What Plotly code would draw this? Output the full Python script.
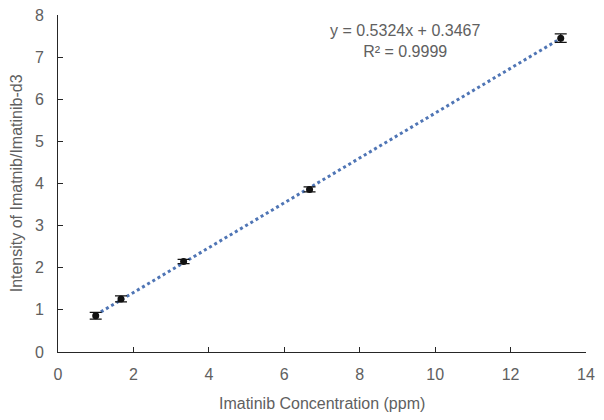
import plotly.graph_objects as go

conc = [1.0, 1.67, 3.33, 6.67, 13.33]
intensity = [0.86, 1.26, 2.15, 3.86, 7.45]
err = [0.08, 0.07, 0.05, 0.06, 0.10]
slope = 0.5324
intercept = 0.3467
eq_text = "y = 0.5324x + 0.3467<br>R² = 0.9999"
x_ticks = [0, 2, 4, 6, 8, 10, 12, 14]
y_ticks = [0, 1, 2, 3, 4, 5, 6, 7, 8]
x_title = "Imatinib Concentration (ppm)"
y_title = "Intensity of Imatnib/Imatinib-d3"

fit_x = [conc[0], conc[-1]]
fit_y = [slope * v + intercept for v in fit_x]

grey = "#606060"
fam = "Liberation Sans, Arial, sans-serif"
font = dict(family=fam, size=16, color=grey)
tickfont = dict(family=fam, size=16, color=grey)

fig = go.Figure()
fig.add_trace(go.Scatter(x=fit_x, y=fit_y, mode="lines",
                         line=dict(color="#4F75B5", width=3, dash="dot"),
                         showlegend=False, hoverinfo="skip"))
fig.add_trace(go.Scatter(x=conc, y=intensity, mode="markers",
                         marker=dict(color="#111111", size=7),
                         error_y=dict(type="data", array=err, visible=True,
                                      color="#111111", thickness=1.2, width=6),
                         showlegend=False))
fig.add_annotation(x=0.657, y=0.985, xref="paper", yref="paper", text=eq_text,
                   showarrow=False, align="center", yanchor="top",
                   font=dict(size=16, color=grey, family=fam))
fig.add_annotation(x=0.5, y=-0.154, xref="paper", yref="paper", text=x_title,
                   showarrow=False, font=font, yanchor="middle")
fig.add_annotation(x=-0.078, y=0.5, xref="paper", yref="paper", text=y_title,
                   showarrow=False, font=font, textangle=-90, xanchor="center")

# page body has an 8px margin, so the figure is offset by 8px
fig.update_layout(
    width=596, height=412,
    margin=dict(l=50, r=18, t=7, b=68, autoexpand=False),
    paper_bgcolor="white", plot_bgcolor="white",
    font=font,
)
fig.update_xaxes(range=[0, 14], tickvals=x_ticks, showgrid=False, zeroline=False,
                 showline=True, linecolor="#262626", linewidth=1, automargin=False,
                 ticks="inside", ticklen=5, tickcolor="#262626", tickfont=tickfont,
                 ticklabelstandoff=8, ticklabeloverflow="allow")
fig.update_yaxes(range=[0, 8], tickvals=y_ticks, showgrid=False, zeroline=False,
                 showline=True, linecolor="#262626", linewidth=1, automargin=False,
                 ticks="inside", ticklen=5, tickcolor="#262626", tickfont=tickfont,
                 ticklabelstandoff=10, ticklabeloverflow="allow")

fig.write_html("out.html")
